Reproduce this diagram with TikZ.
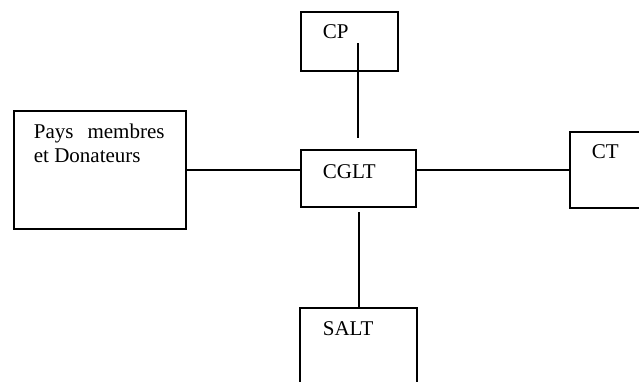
\documentclass[tikz,border=0pt]{standalone}
\usepackage{fontspec}
\setmainfont{Liberation Serif}
\begin{document}
\begin{tikzpicture}[x=1pt, y=-1pt, line width=1.8pt,
  box/.style={draw, rectangle, anchor=north west, inner sep=0pt},
  lbl/.style={anchor=base west, inner sep=0pt, font=\fontsize{21}{24}\selectfont}]

\useasboundingbox (0,0) rectangle (639,381);
\clip (0,0) rectangle (639,381);

\node[box, minimum width=172pt, minimum height=118pt] (pays) at (13,110) {};
\node[box, minimum width=97pt, minimum height=59pt] (cp) at (300,11) {};
\node[box, minimum width=115pt, minimum height=57pt] (cglt) at (300,149) {};
\node[box, minimum width=90pt, minimum height=76pt] (ct) at (569,131) {};
\node[box, minimum width=117pt, minimum height=100pt] (salt) at (299,307) {};

\node[lbl] (paystext) at (33,138) {Pays\hspace{14pt}membres};
\node[lbl] (donateurs) at (33,162) {et Donateurs};
\node[lbl] (cptext) at (322,38) {CP};
\node[lbl] (cgltext) at (322,178) {CGLT};
\node[lbl] (cttext) at (591,158) {CT};
\node[lbl] (salttext) at (322,335) {SALT};

\coordinate (cpa) at (358,43);
\coordinate (cpb) at (358,138);
\coordinate (sla) at (359,212);

\draw (cpa) -- (cpb);
\draw (pays.east) -- (pays.east -| cglt.west);
\draw (ct.west -| cglt.east) -- (ct.west);
\draw (sla) -- (sla |- salt.north);

\end{tikzpicture}
\end{document}
